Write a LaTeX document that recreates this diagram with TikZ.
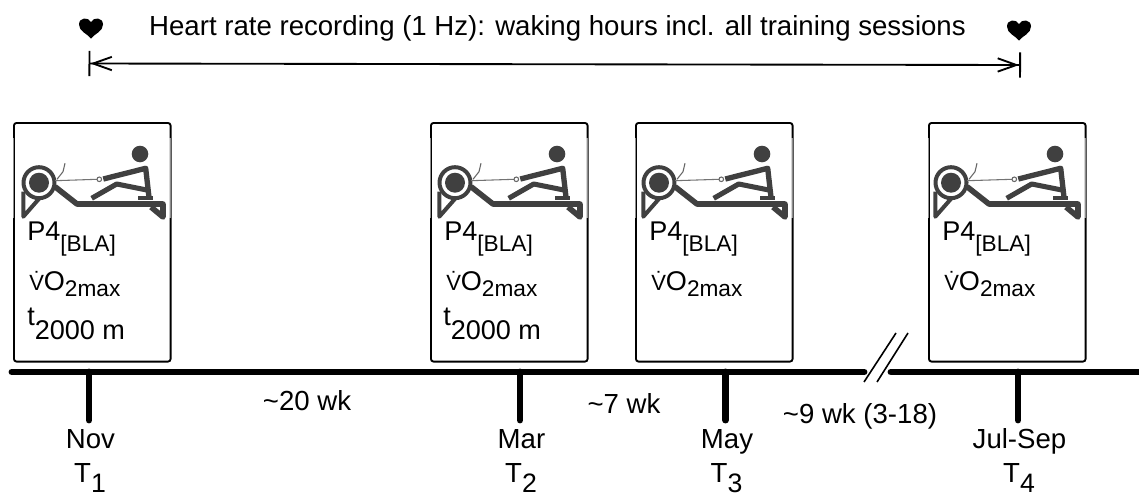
\documentclass[tikz,border=0pt]{standalone}
\usepackage{fontspec}
\setmainfont{Liberation Sans}
\usetikzlibrary{arrows.meta}
\newcommand{\fsz}[1]{\fontsize{#1}{#1}\selectfont}
\newcommand{\loweredtext}[2]{\raisebox{-#1pt}{#2}}
\tikzset{
  x=0.75pt,y=-0.75pt,
  lbl/.style={inner sep=0pt,font=\fsz{20.7}},
  boxitem/.style={inner sep=0pt,anchor=base west,font=\fsz{20.3}},
  panel/.style={draw=black,line width=1.4pt,rounded corners=2pt,minimum width=117.5pt,minimum height=179pt,inner sep=0pt,anchor=north west},
  axisline/.style={line width=5.2pt,line cap=round},
  ticks/.style={line width=5.2pt,line cap=round},
  breakline/.style={line width=1.2pt},
  span/.style={line width=1.4pt,{Bar[width=19pt,line width=1.4pt]Straight Barb[length=14pt,width=10pt,line width=1.4pt]}-{Straight Barb[length=14pt,width=10pt,line width=1.4pt]Bar[width=19pt,line width=1.4pt]}},
  rowergray/.style={draw=black!75,line join=round},
  rowerfill/.style={fill=black!75},
  pics/heart/.style={code={
    \fill[black] (0,10) .. controls (-4,5) and (-12,3) .. (-12,-4)
      .. controls (-12,-11) and (-3,-12) .. (0,-6.5)
      .. controls (3,-12) and (12,-11) .. (12,-4)
      .. controls (12,3) and (4,5) .. (0,10) -- cycle;
  }},
  pics/rower/.style={code={
    \fill[rowerfill] (#1,60.7) circle[radius=10];
    \draw[rowergray,line width=3pt] (#1,60.7) circle[radius=15.5];
    \draw[rowergray,line width=3pt] (#1-15.7,69.7) -- (#1-15.7,94.7) -- (#1+1.3,75.3);
    \draw[rowergray,line width=4.2pt] (#1+16,64.7) -- (#1+38,82) -- (150,82) -- (150,95) -- (138,85);
    \fill[rowerfill] (127,32) circle[radius=8.3];
    \draw[rowergray,line width=4pt] (90.3,57) -- (132.7,46.3) -- (136,75.3);
    \draw[rowergray,line width=3.8pt] (133.7,68) -- (103.7,62) -- (78.7,76.3);
    \draw[rowergray,line width=2.6pt] (125.3,76) -- (140.3,76);
    \draw[black!55,line width=0.8pt] (#1+16,58.7) -- (84,57.3);
    \draw[black!60,line width=0.8pt] (86.3,57.3) circle[radius=2.3];
    \draw[black!60,line width=0.8pt] (#1+18,57.3) -- (#1+24,49.7) -- (#1+26,41.3);
  }},
}
\newcommand{\rowerpanel}[4]{% name, x, wheel x, third line
  \begin{scope}[shift={(#2,122)}]
    \node[panel] (#1) at (0,0) {};
    \draw[white,line width=1pt,opacity=0.55] (0,16) -- (0,96) (157,16) -- (157,96);
    \pic {rower=#3};
    \node[boxitem] (#1p) at (14,118) {P4\loweredtext{8.5}{\fsz{17}[BLA]}};
    \node[boxitem] (#1v) at (16,168) {{\fsz{16.5}\.{V}}O\loweredtext{5.2}{\fsz{17}2max}};
    #4
  \end{scope}
}
\begin{document}
\begin{tikzpicture}
\useasboundingbox (0,0) rectangle (1139,493);
% heart-rate span
\pic at (91,28.5) {heart};
\pic at (1019,30.5) {heart};
\node[lbl,anchor=base] (hr) at (557.5,35) {Heart rate recording (1 Hz): waking hours incl. all training sessions};
\coordinate (spanL) at (88.5,63.5);
\coordinate (spanR) at (1021,65);
\draw[span] (spanL) -- (spanR);
% panels
\rowerpanel{a}{13}{26}{\node[boxitem] (at) at (14,203) {t\loweredtext{11}{2000 m}};}
\rowerpanel{b}{430}{25}{\node[boxitem] (bt) at (13,203) {t\loweredtext{11}{2000 m}};}
\rowerpanel{c}{635}{24}{}
\rowerpanel{d}{928}{23}{}
% axis
\coordinate (axL) at (12,372);
\coordinate (axM) at (864,372);
\coordinate (axN) at (891,372);
\coordinate (axR) at (1145,372);
\draw[axisline] (axL) -- (axM);
\draw[axisline] (axN) -- (axR);
% axis break
\coordinate (b1s) at (864,382); \coordinate (b1e) at (896,333);
\coordinate (b2s) at (877,382); \coordinate (b2e) at (908,333);
\draw[breakline] (b1s) -- (b1e);
\draw[breakline] (b2s) -- (b2e);
% ticks and labels
\foreach \nm/\x/\mon/\idx in {t1/89/Nov/1,t2/520/Mar/2,t3/725.5/May/3,t4/1018/Jul-Sep/4}{
  \coordinate (\nm top) at (\x,372);
  \coordinate (\nm bot) at (\x,420);
  \draw[ticks] (\nm top) -- (\nm bot);
  \node[lbl,anchor=base] (\nm m) at (\x+1.5,448) {\mon};
  \node[lbl,anchor=base] (\nm t) at (\x+1,482) {T\loweredtext{7.5}{\fsz{20}\idx}};
}
\node[lbl,anchor=base] (w1) at (307,410) {\textasciitilde 20 wk};
\node[lbl,anchor=base] (w2) at (624,413) {\textasciitilde 7 wk};
\node[lbl,anchor=base] (w3) at (860,423) {\textasciitilde 9 wk (3-18)};
\end{tikzpicture}
\end{document}
